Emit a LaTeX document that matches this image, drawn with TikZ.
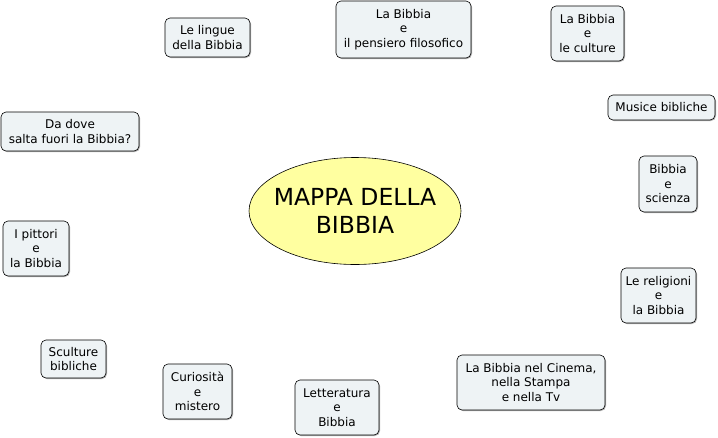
\documentclass[tikz,border=0pt]{standalone}
\usepackage{fontspec}
\setmainfont{DejaVu Sans}
\usetikzlibrary{shapes.geometric,shadows}
\definecolor{boxfill}{HTML}{EEF3F5}
\definecolor{ellfill}{HTML}{FFFFA0}
\tikzset{
  topic/.style={draw=black, line width=0.6pt, rounded corners=5pt, fill=boxfill,
    align=center, font=\fontsize{12}{14.5}\selectfont, inner sep=0pt,
    drop shadow={shadow xshift=1pt, shadow yshift=-1pt, fill=gray!60, opacity=1}},
  core/.style={draw=black, line width=0.6pt, ellipse, fill=ellfill, inner sep=0pt},
  coretext/.style={align=center, font=\fontsize{23.5}{28.5}\selectfont, inner sep=0pt}
}
\newcommand{\tbox}[6]{\node[topic, minimum width=#4pt, minimum height=#5pt] (#1) at (#2pt,-#3pt) {#6};}
\begin{document}
\begin{tikzpicture}[x=1pt,y=1pt]
\useasboundingbox (0,0) rectangle (718,-437);
\node[core, minimum width=212pt, minimum height=107pt] (c) at (355,-211) {};
\node[coretext] (ct) at (c.center) {MAPPA DELLA\\BIBBIA};
\tbox{a}{207.5}{37.5}{85}{39}{Le lingue\\della Bibbia}
\tbox{b}{403.5}{29.5}{135}{57}{La Bibbia\\e\\il pensiero filosofico}
\tbox{d}{587.5}{33.5}{73}{55}{La Bibbia\\e\\le culture}
\tbox{e}{661.5}{107.5}{107}{25}{Musice bibliche}
\tbox{f}{668}{184}{58}{56}{Bibbia\\e\\scienza}
\tbox{g}{658.5}{295.5}{75}{55}{Le religioni\\e\\la Bibbia}
\tbox{h}{531}{382.5}{148}{55}{La Bibbia nel Cinema,\\nella Stampa\\e nella Tv}
\tbox{i}{337}{407.5}{84}{55}{Letteratura\\e\\Bibbia}
\tbox{j}{197.5}{391.5}{69}{55}{Curiosità\\e\\mistero}
\tbox{k}{73.5}{359}{65}{38}{Sculture\\bibliche}
\tbox{l}{36}{248.5}{66}{55}{I pittori\\e\\la Bibbia}
\tbox{m}{70}{131.5}{138}{39}{Da dove\\salta fuori la Bibbia?}
\end{tikzpicture}
\end{document}
